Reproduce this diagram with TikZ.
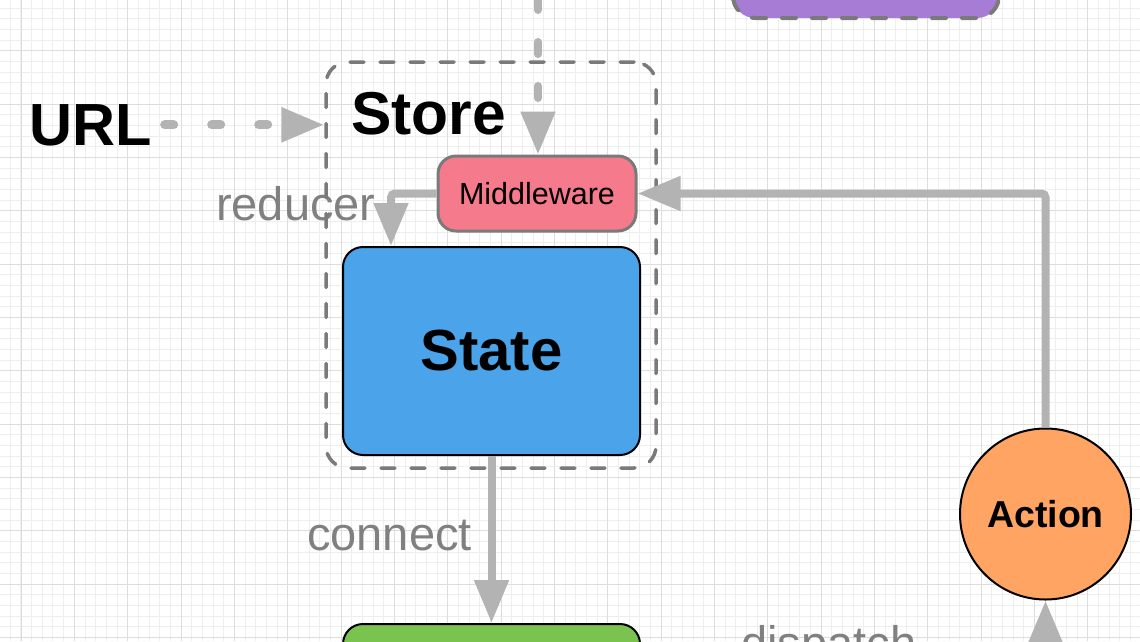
\documentclass[tikz,border=0pt]{standalone}
\usepackage{fontspec}
\setmainfont{Liberation Sans}
\usetikzlibrary{arrows.meta}

\definecolor{flowgray}{HTML}{B3B3B3}
\definecolor{labelgray}{HTML}{808080}
\definecolor{dashgray}{HTML}{7A7A7A}
\definecolor{purplefill}{HTML}{A67CD5}
\definecolor{pinkfill}{HTML}{F47A8C}
\definecolor{bluefill}{HTML}{4BA3EA}
\definecolor{greenfill}{HTML}{7AC34F}
\definecolor{orangefill}{HTML}{FFA462}
\definecolor{gridminor}{HTML}{EEEEEE}
\definecolor{gridmajor}{HTML}{DDDDDD}

\begin{document}
\begin{tikzpicture}[x=1pt, y=-1pt,
    minorline/.style={draw=gridminor, line width=1pt},
    majorline/.style={draw=gridmajor, line width=1pt},
    box/.style={draw, rounded corners=20pt, line width=2pt, inner sep=0pt},
    dashbox/.style={draw=dashgray, line width=4pt, dash pattern=on 14pt off 16pt, line cap=round, rounded corners=22pt},
    flow/.style={draw=flowgray, line width=8pt, rounded corners=4pt, -{Triangle[length=43pt,width=33pt]}},
    flowlabel/.style={text=labelgray, inner sep=0pt, font=\fontsize{47}{50}\selectfont},
    title/.style={inner sep=0pt, font=\fontsize{60.5}{62}\selectfont\bfseries},
  ]

        % Clip to the visible window
        \clip (0,0) rectangle (1140,641);
        \fill[white] (0,0) rectangle (1140,641);

        % Background grid
        \foreach \i in {0,...,107}
            \draw[minorline] ({10.33+10.667*\i},0) -- ({10.33+10.667*\i},641);
        \foreach \j in {0,...,60}
            \draw[minorline] (0,{8+10.667*\j}) -- (1140,{8+10.667*\j});
        \foreach \i in {0,...,21}
            \draw[majorline] ({21+53.333*\i},0) -- ({21+53.333*\i},641);
        \foreach \j in {-1,...,11}
            \draw[majorline] (0,{50.7+53.333*\j}) -- (1140,{50.7+53.333*\j});

        % Define the free ends of the connectors
        \coordinate (topin) at (538,-40);
        \coordinate (dispin) at (1045.5,700);

        % Labels of the connectors
        \node[flowlabel, anchor=base west] (reducerlabel) at (216,220) {reducer};
        \node[flowlabel, anchor=base west] (connectlabel) at (307,550) {connect};
        \node[flowlabel, anchor=base west] (dispatchlabel) at (741,659) {dispatch};

        % Store frame
        \node[dashbox, line width=3.5pt, minimum width=330pt, minimum height=406pt] (store) at (491,265) {};
        \node[title, anchor=base west] (storetitle) at (351,134) {Store};

        % Boxes
        \node[dashbox, fill=purplefill, minimum width=266pt, minimum height=116pt] (view) at (866,-40) {};
        \node[box, draw=dashgray, line width=3pt, fill=pinkfill, rounded corners=18pt,
              minimum width=198pt, minimum height=75pt, font=\fontsize{30.5}{32}\selectfont] (mw) at (537,193.5) {Middleware};
        \node[box, fill=bluefill, minimum width=297pt, minimum height=208pt,
              font=\fontsize{58}{60}\selectfont\bfseries] (state) at (491.5,351) {State};
        \node[box, fill=greenfill, minimum width=297pt, minimum height=152pt] (comp) at (491.5,700) {};
        \node[circle, draw, line width=2pt, fill=orangefill, minimum size=171pt, inner sep=0pt,
              font=\fontsize{37.5}{40}\selectfont\bfseries] (act) at (1045.5,514) {Action};
        \node[title, font=\fontsize{59.5}{62}\selectfont\bfseries, anchor=base west] (url) at (29,145) {URL};

        % Draw the connectors
        \draw[flow] (act.north) |- (mw.east);
        \draw[flow] (mw.west) -| ([xshift=49pt]state.north west);
        \draw[flow] (state.south) -- (comp.north);
        \draw[flow] (dispin) -- (act.south);
        \draw[flow, line cap=round, dash pattern=on 12pt off 32pt, dash phase=6pt] (topin) -- (topin |- mw.north);
        \draw[flow, line width=9pt, line cap=round, dash pattern=on 9pt off 38pt, shorten <=13pt] (url.east) -- (url.east -| store.west);

\end{tikzpicture}
\end{document}
